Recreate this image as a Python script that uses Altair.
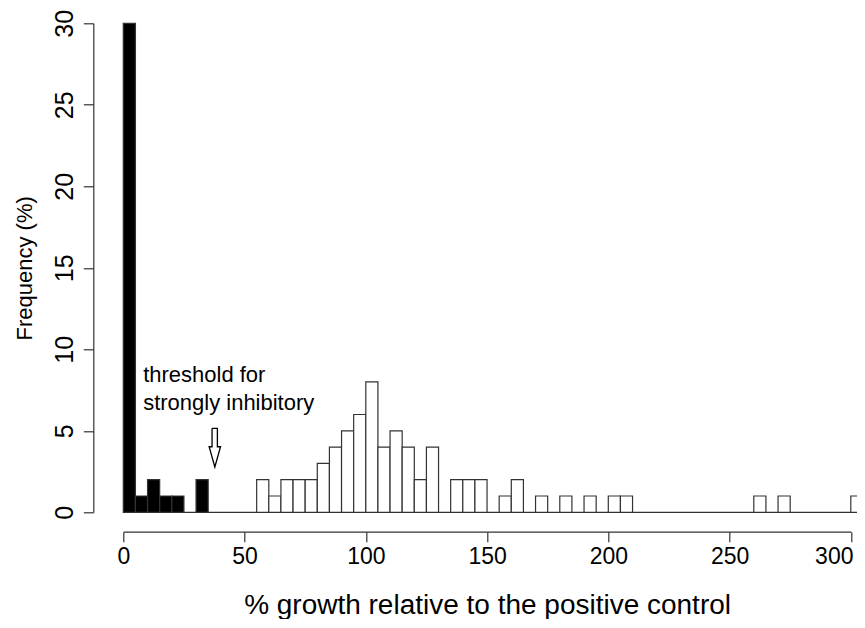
import altair as alt
import pandas as pd

# ---- data ----
bin_start = list(range(0, 305, 5))          # 5-unit bins, 0 ... 300
freq = [30, 1, 2, 1, 1, 0, 2, 0, 0, 0,      # 0-45
        0, 2, 1, 2, 2, 2, 3, 4, 5, 6,       # 50-95
        8, 4, 5, 4, 2, 4, 0, 2, 2, 2,       # 100-145
        0, 1, 2, 0, 1, 0, 1, 0, 1, 0,       # 150-195
        1, 1, 0, 0, 0, 0, 0, 0, 0, 0,       # 200-245
        0, 0, 1, 0, 1, 0, 0, 0, 0, 0,       # 250-295
        1]                                  # 300
bin_width = 5
threshold = 35

x_ticks = [0, 50, 100, 150, 200, 250, 300]
y_ticks = [0, 5, 10, 15, 20, 25, 30]

note_lines = ["threshold for", "strongly inhibitory"]
note_x = [8.2, 8.2]
note_y = [8.0, 6.28]

# hollow down arrow outline (data units)
arrow_x = [36.6, 36.6, 35.4, 37.75, 40.1, 38.8, 38.8, 36.6]
arrow_y = [5.15, 4.02, 4.02, 2.78, 4.02, 4.02, 5.15, 5.15]

FONT = "Liberation Sans, Arial"

df = pd.DataFrame({
    "start": bin_start,
    "end": [s + bin_width for s in bin_start],
    "freq": freq,
    "base": [0] * len(bin_start),
    "group": ["inhib" if s < threshold else "other" for s in bin_start],
})
df = df[df["freq"] > 0]

xscale = alt.Scale(domain=[0, 300], nice=False, zero=False)
yscale = alt.Scale(domain=[0, 30], nice=False)

x_axis = alt.Axis(title="% growth relative to the positive control", values=x_ticks,
                  offset=19.4, tickSize=10, labelPadding=4,
                  labelFont=FONT, labelFontSize=23, labelColor="black",
                  labelBaseline="top", labelFlush=False,
                  labelOffset={"condition": {"test": "datum.value == 300", "value": -17}, "value": 0},
                  titleFont=FONT, titleFontSize=28, titleFontWeight="normal",
                  titleColor="black", titleBaseline="alphabetic", titleY=81.5)
y_axis = alt.Axis(title="Frequency (%)", values=y_ticks,
                  offset=30, tickSize=10, labelPadding=11.3,
                  labelAngle=270, labelAlign="center", labelBaseline="alphabetic",
                  labelFont=FONT, labelFontSize=25, labelColor="black",
                  labelFlush=False,
                  titleFont=FONT, titleFontSize=22, titleFontWeight="normal",
                  titleColor="black", titleAngle=270, titleAlign="center",
                  titleBaseline="alphabetic", titleX=-62.3, titleY=244.5)

bars = alt.Chart(df).mark_bar(stroke="#333", strokeWidth=1.2).encode(
    x=alt.X("start:Q", scale=xscale, axis=x_axis),
    x2="end:Q",
    y=alt.Y("freq:Q", scale=yscale, axis=y_axis),
    y2="base:Q",
    color=alt.Color("group:N", scale=alt.Scale(domain=["inhib", "other"], range=["black", "white"]),
                    legend=None),
)

base_line = alt.Chart(pd.DataFrame({"start": [0], "end": [bin_start[-1] + bin_width], "freq": [0]})).mark_rule(
    color="#333", strokeWidth=1.2
).encode(
    x=alt.X("start:Q", scale=xscale, axis=x_axis),
    x2="end:Q",
    y=alt.Y("freq:Q", scale=yscale, axis=y_axis),
)

note = alt.Chart(pd.DataFrame({"start": note_x, "freq": note_y, "t": note_lines})).mark_text(
    align="left", baseline="alphabetic", font=FONT, fontSize=22, color="black"
).encode(
    x=alt.X("start:Q", scale=xscale, axis=x_axis),
    y=alt.Y("freq:Q", scale=yscale, axis=y_axis),
    text="t:N",
)

arrow = alt.Chart(pd.DataFrame({"start": arrow_x, "freq": arrow_y, "i": list(range(len(arrow_x)))})).mark_line(
    color="black", strokeWidth=1.3
).encode(
    x=alt.X("start:Q", scale=xscale, axis=x_axis),
    y=alt.Y("freq:Q", scale=yscale, axis=y_axis),
    order="i:Q",
)

chart = alt.layer(base_line, bars, note, arrow).properties(
    width=727.5, height=489,
    autosize=alt.AutoSizeParams(type="none"),
    padding={"left": 115.3, "top": 15.3, "right": 6, "bottom": 107},
).configure_view(stroke=None).configure_axis(
    grid=False, domainColor="#333", tickColor="#333", domainWidth=1.2, tickWidth=1.2
)

chart.save("out.html", embed_options={"renderer": "svg", "actions": False})
